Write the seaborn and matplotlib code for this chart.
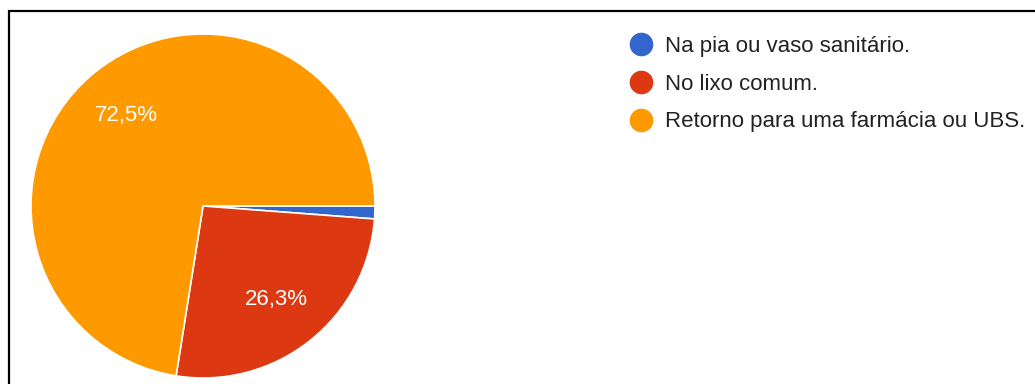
import matplotlib
matplotlib.use("Agg")
import matplotlib.pyplot as plt
from matplotlib.lines import Line2D
from matplotlib.patches import Rectangle
import seaborn as sns

# Destino dado aos medicamentos
categories = ["Na pia ou vaso sanitário.", "No lixo comum.", "Retorno para uma farmácia ou UBS."]
shares = [1.2, 26.3, 72.5]
colors = ["#3366CC", "#DC3912", "#FF9900"]

sns.set_theme(style="white")
plt.rcParams["font.family"] = ["Liberation Sans", "DejaVu Sans"]

W, H = 1035, 384
fig = plt.figure(figsize=(W / 100, H / 100), dpi=100)
fig.patch.set_facecolor("white")

# pie axes: square in pixels
cx, cy, r = 203, 206, 172
ax = fig.add_axes([(cx - r) / W, (H - cy - r) / H, 2 * r / W, 2 * r / H])
ax.set_axis_off()


def pct_label(p):
    return f"{p:.1f}%".replace(".", ",") if p >= 5 else ""


wedges, texts, autotexts = ax.pie(
    shares,
    colors=colors,
    startangle=0,
    counterclock=False,
    autopct=pct_label,
    pctdistance=0.69,
    wedgeprops=dict(edgecolor="white", linewidth=1.2),
    textprops=dict(color="white", fontsize=16),
)
ax.set_xlim(-1, 1)
ax.set_ylim(-1, 1)

handles = [
    Line2D([], [], linestyle="none", marker="o", markersize=16,
           markerfacecolor=c, markeredgecolor=c)
    for c in colors
]
leg = fig.legend(
    handles, categories,
    loc="upper left",
    bbox_to_anchor=(630 / W, (H - 36) / H),
    frameon=False,
    fontsize=16,
    handlelength=1.0,
    handletextpad=0.58,
    labelspacing=0.75,
    borderaxespad=0,
    borderpad=0,
)
for t in leg.get_texts():
    t.set_color("#222222")

# outer frame (open at right and bottom)
fig.add_artist(Rectangle((9 / W, -0.1), 1.2, (H - 11) / H + 0.1,
                         transform=fig.transFigure, fill=False,
                         edgecolor="black", linewidth=1.6))

fig.savefig("out.png", dpi=100, facecolor="white")
